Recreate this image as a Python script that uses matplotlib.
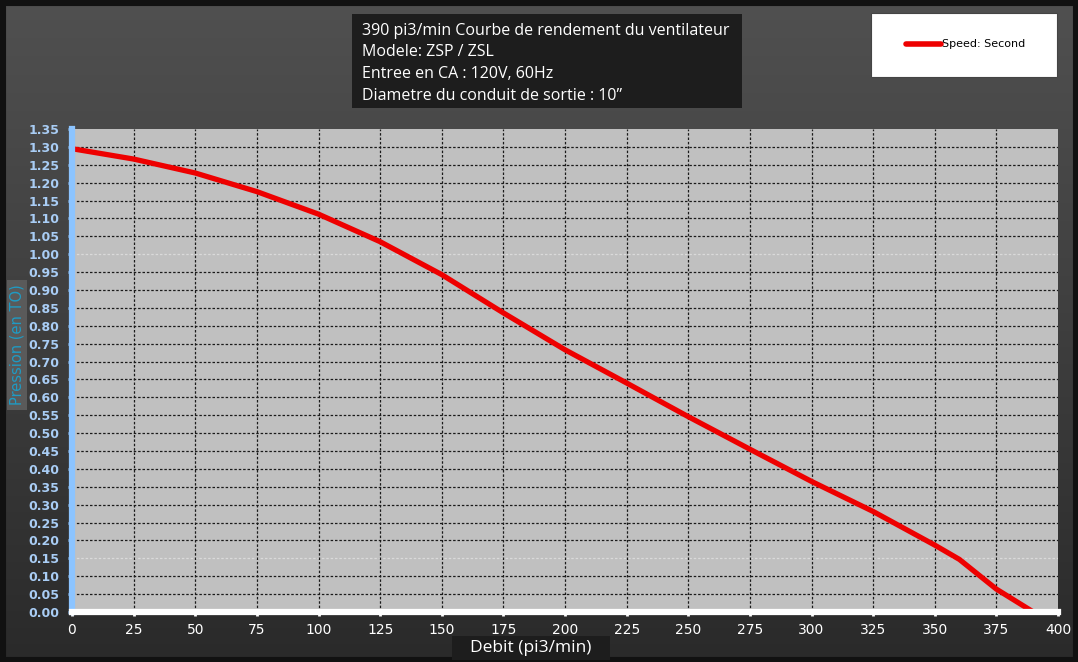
import numpy as np
import matplotlib
matplotlib.use("Agg")
import matplotlib.pyplot as plt
from matplotlib.patches import Rectangle
from matplotlib.colors import LinearSegmentedColormap

# ---- data ----
flow = [0, 25, 50, 75, 100, 125, 150, 175, 200, 225, 250, 275, 300, 325, 350, 360, 375, 390]
pressure = [1.295, 1.266, 1.227, 1.175, 1.112, 1.035, 0.943, 0.836, 0.733, 0.640, 0.546,
            0.455, 0.365, 0.281, 0.187, 0.147, 0.064, 0.0]
x_ticks = list(range(0, 401, 25))
y_ticks = [round(i * 0.05, 2) for i in range(28)]
faint_grid = [1.00, 0.15]
title_lines = ["390 pi3/min Courbe de rendement du ventilateur",
               "Modele: ZSP / ZSL",
               "Entree en CA : 120V, 60Hz",
               "Diametre du conduit de sortie : 10\u201d"]
legend_label = "Speed: Second"
x_label = "Debit (pi3/min)"
y_label = "Pression (en TO)"

W, H = 1078, 662
fig = plt.figure(figsize=(W / 100, H / 100), dpi=100)

# background gradient
bg = fig.add_axes([0, 0, 1, 1], zorder=-10)
grad = np.linspace(0, 1, 256).reshape(-1, 1)
cmap = LinearSegmentedColormap.from_list("bgc", ["#505050", "#3e3e3e", "#2a2a2a"])
bg.imshow(grad, aspect="auto", cmap=cmap, extent=[0, 1, 0, 1])
bg.add_patch(Rectangle((0, 0), 1, 1, fill=False, edgecolor="#111111", lw=8,
                       transform=bg.transAxes))
bg.set_axis_off()

def fx(px):
    return px / W

def fy(py):
    return 1 - py / H

ax = fig.add_axes([fx(72), fy(612), fx(1058) - fx(72), fy(129) - fy(612)])
ax.set_facecolor("#c0c0c0")
ax.set_xlim(0, 400)
ax.set_ylim(0, 1.35)

# grid
for yv in y_ticks[1:-1]:
    col = "#dadada" if yv in faint_grid else "#1a1a1a"
    ax.axhline(yv, color=col, lw=0.9, ls=(0, (2, 1.5)), zorder=1)
for xv in x_ticks[1:-1]:
    ax.axvline(xv, color="#1a1a1a", lw=0.9, ls=(0, (2, 1.5)), zorder=1)

ax.plot(flow, pressure, color="#ee0000", lw=3.8, solid_capstyle="butt",
        solid_joinstyle="round", zorder=3, label=legend_label)

for s in ["top", "right"]:
    ax.spines[s].set_visible(False)
ax.spines["left"].set_color("#8cc4ff")
ax.spines["left"].set_linewidth(4.5)
ax.spines["left"].set_zorder(5)
ax.spines["bottom"].set_color("#ffffff")
ax.spines["bottom"].set_linewidth(4.5)
ax.spines["bottom"].set_zorder(5)

ax.set_xticks(x_ticks)
ax.set_xticklabels([str(v) for v in x_ticks])
ax.set_yticks(y_ticks)
ax.set_yticklabels([f"{v:.2f}" for v in y_ticks])
ax.tick_params(axis="x", colors="#ffffff", length=3, width=2, pad=5, labelsize=10)
ax.tick_params(axis="y", colors="#8cc4ff", length=3, width=2, pad=6, labelsize=9)
for lab in ax.get_yticklabels():
    lab.set_fontweight("bold")
    lab.set_color("#a9cdf5")
    lab.set_family(["Liberation Sans Narrow", "DejaVu Sans"])
for lab in ax.get_xticklabels():
    lab.set_color("#ffffff")
    lab.set_family(["Liberation Sans Narrow", "DejaVu Sans"])

# title box
fig.patches.append(Rectangle((fx(352), fy(108)), fx(742) - fx(352), fy(14) - fy(108),
                             transform=fig.transFigure, facecolor="#1d1d1d",
                             edgecolor="none", zorder=2))
for i, line in enumerate(title_lines):
    fig.text(fx(362), fy(31 + i * 21.5), line, color="white", fontsize=11.5,
             family="Open Sans", va="center", ha="left", zorder=3)

# legend box
fig.patches.append(Rectangle((fx(871), fy(77)), fx(1057) - fx(871), fy(13) - fy(77),
                             transform=fig.transFigure, facecolor="white",
                             edgecolor="#444444", lw=0.8, zorder=2))
fig.add_artist(plt.Line2D([fx(906), fx(941)], [fy(44), fy(44)], color="#ee0000", lw=4,
                          solid_capstyle="round", transform=fig.transFigure, zorder=3))
fig.text(fx(942), fy(44), legend_label, color="black", fontsize=8,
         va="center", ha="left", zorder=3)

# x label box
fig.patches.append(Rectangle((fx(452), fy(660)), fx(610) - fx(452), fy(636) - fy(660),
                             transform=fig.transFigure, facecolor="#1d1d1d",
                             edgecolor="none", zorder=2))
fig.text(fx(531), fy(648), x_label, color="white", fontsize=12.5, family="Open Sans",
         va="center", ha="center", zorder=3)

# y label box
fig.patches.append(Rectangle((fx(7), fy(410)), fx(27) - fx(7), fy(280) - fy(410),
                             transform=fig.transFigure, facecolor="#5a5a5a",
                             edgecolor="none", zorder=2))
fig.text(fx(17), fy(345), y_label, color="#1f9bc4", fontsize=10.5, rotation=90,
         family=["Liberation Sans Narrow", "DejaVu Sans"],
         va="center", ha="center", zorder=3)

fig.savefig("out.png", dpi=100)
